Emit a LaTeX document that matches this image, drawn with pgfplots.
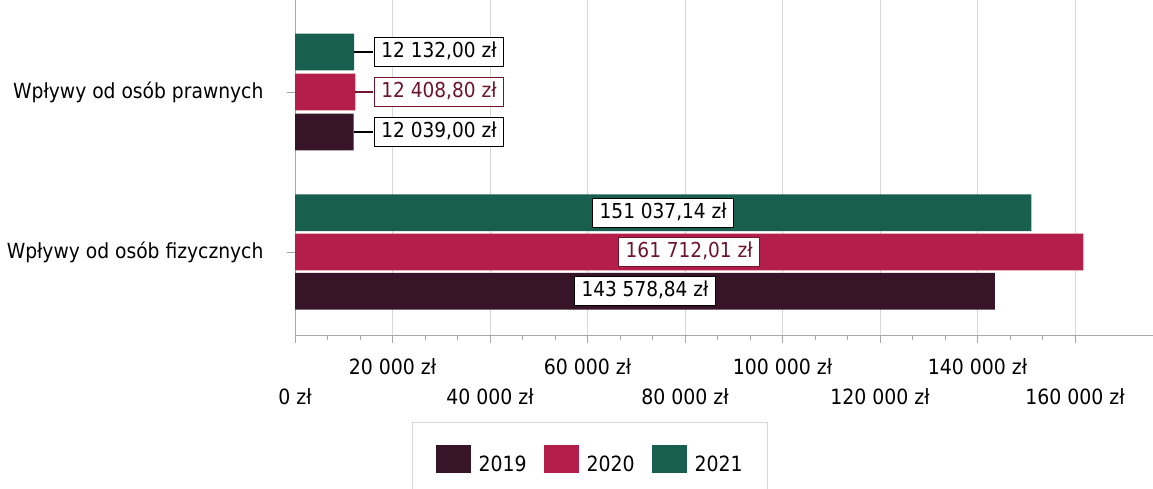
\documentclass[border=0pt]{standalone}
\usepackage{fontspec}
\setmainfont{DejaVu Sans Condensed}
\usepackage{pgfplots}
\pgfplotsset{compat=1.18}
\definecolor{c19}{HTML}{371428}
\definecolor{c20}{HTML}{B41E4B}
\definecolor{c21}{HTML}{195F50}
\definecolor{t20}{HTML}{6E142D}
\definecolor{gridc}{HTML}{D6D6D6}
\definecolor{axisc}{HTML}{A8A8A8}
\pgfplotsset{
  mybar/.style={xbar, bar width=0.23, bar shift=0pt, draw=none, fill=#1,
    legend image code/.code={\fill[##1] (0pt,-8pt) rectangle (35pt,20pt);}},
  mylab/.style={forget plot, draw=none, mark=none, nodes near coords,
    point meta=explicit symbolic,
    every node near coord/.append style={anchor=center, fill=white, draw=#1,
      line width=1.4pt, inner xsep=7pt, inner ysep=5pt, text height=15pt, text depth=4pt,
      font=\fontsize{20.6}{24}\selectfont}},
}
\begin{document}
\begin{tikzpicture}[x=1pt,y=1pt]
\useasboundingbox (0,0) rectangle (1153,489);
\begin{axis}[
  at={(295pt,154pt)}, anchor=south west,
  scale only axis, width=858pt, height=335pt,
  xmin=0, xmax=176000, ymin=-0.519, ymax=1.575,
  axis lines*=left, axis line style={-, axisc, line width=0.8pt},
  scaled x ticks=false,
  xtick={0,20000,40000,60000,80000,100000,120000,140000,160000},
  xticklabels={0 zł, \raisebox{30pt}{20 000 zł}, 40 000 zł, \raisebox{30pt}{60 000 zł}, 80 000 zł, \raisebox{30pt}{100 000 zł}, 120 000 zł, \raisebox{30pt}{140 000 zł}, 160 000 zł},
  minor x tick num=2,
  ytick={0,1},
  yticklabels={Wpływy od osób fizycznych, Wpływy od osób prawnych},
  tick align=outside, major tick length=8pt, minor tick length=5pt,
  tick style={axisc, line width=0.8pt},
  xmajorgrids, major grid style={gridc, line width=0.8pt},
  xticklabel style={font=\fontsize{21}{25}\selectfont, anchor=base, yshift=-62pt},
  yticklabel style={font=\fontsize{20.8}{25}\selectfont, anchor=east, xshift=-20pt},
  legend columns=3,
  legend style={at={(0.1364,-0.2597)}, anchor=north west, draw=gridc, line width=1pt,
    font=\fontsize{21}{25}\selectfont, inner xsep=23pt, inner ysep=22pt,
    /tikz/every odd column/.append style={column sep=6pt},
    /tikz/every even column/.append style={column sep=15pt}},
]
\addplot[mybar=c19] coordinates {(143578.84,-0.245) (12039,0.75)};
\addlegendentry{2019}
\addplot[mybar=c20] coordinates {(161712.01,0) (12408.80,1)};
\addlegendentry{2020}
\addplot[mybar=c21] coordinates {(151037.14,0.245) (12132,1.25)};
\addlegendentry{2021}
% leader lines
\addplot[forget plot, black, line width=1.5pt] coordinates {(12039,0.75) (16000,0.75)};
\addplot[forget plot, t20, line width=1.5pt] coordinates {(12408.80,1) (16000,1)};
\addplot[forget plot, black, line width=1.5pt] coordinates {(12132,1.25) (16000,1.25)};
% labels
\addplot[mylab=black] coordinates {(71789.42,-0.245) [143 578,84 zł] (29540,0.75) [12 039,00 zł]};
\addplot[mylab=t20, every node near coord/.append style={text=t20}] coordinates {(80856,0) [161 712,01 zł] (29540,1) [12 408,80 zł]};
\addplot[mylab=black] coordinates {(75518.57,0.245) [151 037,14 zł] (29540,1.25) [12 132,00 zł]};
\end{axis}
\end{tikzpicture}
\end{document}
